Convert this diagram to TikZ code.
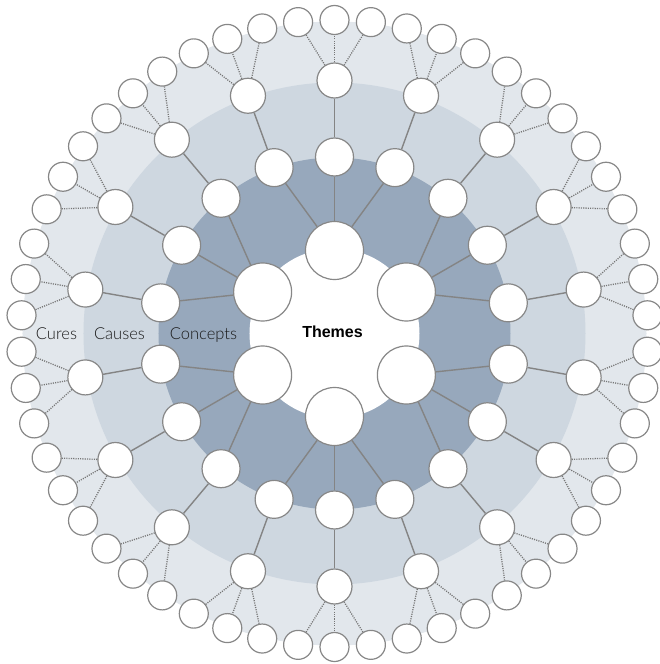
\documentclass[tikz,border=0pt]{standalone}
\usepackage{fontspec}
\setmainfont{Liberation Sans}
\newfontfamily\lightfont{Lato Light}
\definecolor{ringA}{RGB}{151,168,188}
\definecolor{ringB}{RGB}{206,215,224}
\definecolor{ringC}{RGB}{226,231,236}
\definecolor{edgegray}{RGB}{135,135,135}
\definecolor{linkgray}{RGB}{132,132,132}
\definecolor{dotgray}{RGB}{118,118,118}
\begin{document}
\begin{tikzpicture}[x=1pt,y=1pt,
  circ/.style={circle, draw=edgegray, line width=1.2pt, fill=white, inner sep=0pt},
  theme/.style={circ, minimum size=58pt},
  concept/.style={circ, minimum size=38pt},
  cause/.style={circ, minimum size=35pt},
  cure/.style={circ, minimum size=29pt},
  link/.style={draw=linkgray, line width=1.4pt},
  dotlink/.style={draw=dotgray, line width=1.3pt, dash pattern=on 1.1pt off 1.2pt},
  lbl/.style={font=\lightfont\fontsize{16.5}{19}\selectfont, text=black!90, anchor=base, inner sep=0pt},
  titlelbl/.style={font=\fontsize{16}{19}\selectfont\bfseries, text=black, anchor=base, inner sep=0pt}
]
\useasboundingbox (-334.5,-330.5) rectangle (325.5,333.5);
% rings
\fill[ringC] (0,0) circle (312);
\fill[ringB] (0,0) circle (251);
\fill[ringA] (0,0) circle (176);
\fill[white] (0,0) circle (85);
% nodes
\foreach \i in {0,...,5} {
  \node[theme] (t\i) at ({30+60*\i}:83) {};
}
\foreach \j in {0,...,17} {
  \node[concept] (c\j) at ({10+20*\j}:176.5) {};
  \node[cause] (k\j) at ({10+20*\j}:253) {};
  \foreach \m in {0,1,2} {
    \node[cure] (u\j-\m) at ({10+20*\j+6.6667*(\m-1)}:313.5) {};
  }
}
% connectors
\foreach \j in {0,...,17} {
  \pgfmathtruncatemacro{\t}{int(\j/3)}
  \draw[link] (t\t) -- (c\j);
  \draw[link] (c\j) -- (k\j);
  \foreach \m in {0,1,2} {
    \draw[dotlink] (k\j) -- (u\j-\m);
  }
}
% labels
\node[titlelbl] (themes) at (-2,-3.8) {Themes};
\node[lbl] (concepts) at (-131,-5.5) {Concepts};
\node[lbl] (causes) at (-215,-5.5) {Causes};
\node[lbl] (cures) at (-278,-5.5) {Cures};
\end{tikzpicture}
\end{document}
